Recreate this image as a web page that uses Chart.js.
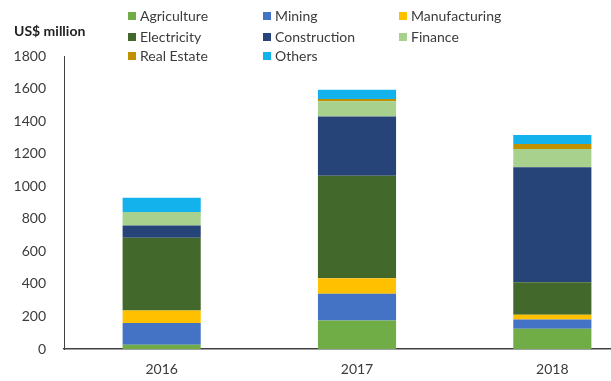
<!DOCTYPE html>
<html lang="en">
<head>
<meta charset="UTF-8">
<title>FDI by sector, 2016-2018</title>
<script src="https://cdn.jsdelivr.net/npm/chart.js"></script>
<style>
  html, body { margin: 0; padding: 0; background: #fff; overflow: hidden; }
  canvas { display: block; }
</style>
</head>
<body>
<canvas id="sectorChart" width="650" height="381"></canvas>
<script>
// years on the x axis
const years = ['2016', '2017', '2018'];

// US$ million per sector, stacked bottom to top
const agriculture   = [26, 175, 124];
const mining        = [133, 164, 57];
const manufacturing = [78, 96, 29];
const electricity   = [446, 630, 200];
const construction  = [76, 364, 706];
const finance       = [82, 93, 113];
const realEstate    = [0, 14, 31];
const others        = [88, 56, 55];

const sectorNames = ['Agriculture', 'Mining', 'Manufacturing', 'Electricity',
                     'Construction', 'Finance', 'Real Estate', 'Others'];
const sectorColors = ['#70AD47', '#4472C4', '#FFC000', '#43682B',
                      '#264478', '#A9D18E', '#BF9000', '#14B2EC'];
const sectorValues = [agriculture, mining, manufacturing, electricity,
                      construction, finance, realEstate, others];

const yTicks = [0, 200, 400, 600, 800, 1000, 1200, 1400, 1600, 1800];

const FONT = 'Lato, "Open Sans", sans-serif';
const TEXT = '#3b3b3b';

// legend in three columns above the plot, plus the unit label
const legendGrid = {
  id: 'legendGrid',
  afterDraw(chart) {
    const ctx = chart.ctx;
    const cols = [128, 263, 399];
    const rows = [16, 37, 56];
    ctx.save();
    ctx.textBaseline = 'middle';
    ctx.textAlign = 'left';
    ctx.font = '14px ' + FONT;
    chart.data.datasets.forEach((ds, i) => {
      const x = cols[i % 3];
      const y = rows[Math.floor(i / 3)];
      ctx.fillStyle = ds.backgroundColor;
      ctx.fillRect(x, y - 4, 8, 8);
      ctx.fillStyle = TEXT;
      ctx.fillText(ds.label, x + 12, y);
    });
    ctx.font = 'bold 14px ' + FONT;
    ctx.fillStyle = '#222';
    ctx.fillText('US$ million', 14, 31);
    ctx.restore();
  }
};

new Chart(document.getElementById('sectorChart'), {
  type: 'bar',
  data: {
    labels: years,
    datasets: sectorNames.map((name, i) => ({
      label: name,
      data: sectorValues[i],
      backgroundColor: sectorColors[i],
      borderWidth: 0,
      barPercentage: 0.4,
      categoryPercentage: 1
    }))
  },
  options: {
    responsive: false,
    animation: false,
    layout: { padding: { top: 56, left: 0, right: 0, bottom: 0 } },
    plugins: {
      legend: { display: false },
      tooltip: { enabled: false }
    },
    scales: {
      x: {
        stacked: true,
        grid: { display: false, drawTicks: false },
        border: { display: true, color: '#404040', width: 1.5 },
        ticks: { color: TEXT, font: { family: FONT, size: 14 }, padding: 12 },
        afterFit(scale) { scale.height = 32; }
      },
      y: {
        stacked: true,
        min: 0,
        max: 1800,
        grid: { display: false, drawTicks: false },
        border: { display: true, color: '#404040', width: 1 },
        afterBuildTicks(scale) { scale.ticks = yTicks.map(v => ({ value: v })); },
        ticks: {
          color: TEXT,
          font: { family: FONT, size: 14 },
          padding: 18,
          callback: v => String(v)
        },
        afterFit(scale) { scale.width = 64; }
      }
    }
  },
  plugins: [legendGrid]
});
</script>
</body>
</html>
